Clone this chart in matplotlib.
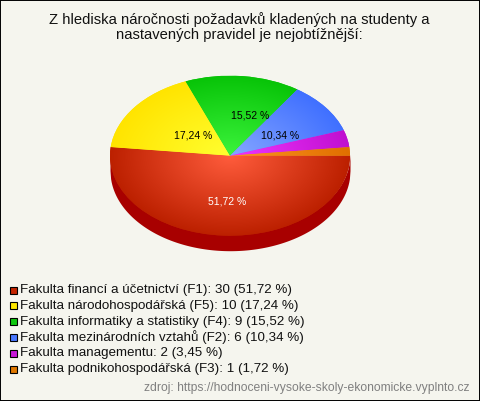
import numpy as np
import matplotlib
matplotlib.use("Agg")
import matplotlib.pyplot as plt
from matplotlib.colors import LinearSegmentedColormap
from matplotlib.patches import Rectangle

plt.rcParams['font.family'] = ['Liberation Sans', 'DejaVu Sans']

W, H = 480, 401
BG = '#f5f5ee'

title = "Z hlediska náročnosti požadavků kladených na studenty a\nnastavených pravidel je nejobtížnější:"
source = "zdroj: https://hodnoceni-vysoke-skoly-ekonomicke.vyplnto.cz"

faculties = [
    "Fakulta financí a účetnictví (F1)",
    "Fakulta národohospodářská (F5)",
    "Fakulta informatiky a statistiky (F4)",
    "Fakulta mezinárodních vztahů (F2)",
    "Fakulta managementu",
    "Fakulta podnikohospodářská (F3)",
]
counts = [30, 10, 9, 6, 2, 1]
percents = ["51,72", "17,24", "15,52", "10,34", "3,45", "1,72"]
# colour at centre of the slice / colour at its rim
inner_colors = ['#ff5c3c', '#ffff30', '#3cf43c', '#86a6ff', '#f035ff', '#ff9422']
outer_colors = ['#bc2000', '#ffe400', '#08c408', '#4070ff', '#c010d0', '#e07000']
legend_colors = ['#c42400', '#ffe800', '#10c810', '#4a78ff', '#c818d8', '#e07800']
side_color = '#a80000'
# slices with a printed percentage: pixel position of the label
pct_pos = [(227.5, 201), (193.5, 136), (250, 115), (280.5, 136)]
pct_color = ['white', 'black', 'black', 'black']


def px_x(x):
    return x / W


def px_y(y):
    return 1 - y / H


fig = plt.figure(figsize=(W / 100, H / 100), dpi=100, facecolor=BG)

# frame
fig.add_artist(Rectangle((0, 0), 1, 1, transform=fig.transFigure, fill=False,
                         edgecolor='black', linewidth=1.4))

fig.text(0.5 - 1 / W, px_y(20), title.split("\n")[0], ha='center', va='center', fontsize=10.67, color='#111111')
fig.text(0.5 - 1 / W, px_y(35), title.split("\n")[1], ha='center', va='center', fontsize=10.67, color='#111111')

# pie, squashed to an ellipse: 240 x 160 px with a 15 px side
cx, cy, rx, ry, depth = 230, 155.7, 120, 80, 15
ax = fig.add_axes([px_x(cx - rx), px_y(cy + ry), 2 * rx / W, 2 * ry / H])
wedges, _ = ax.pie(counts, startangle=0, counterclock=False, radius=1, center=(0, 0))
ax.set_aspect('auto')
ax.set_xlim(-1, 1)
ax.set_ylim(-1, 1)
ax.axis('off')

xs = np.linspace(-1, 1, 400)
ax.fill_between(xs, -np.sqrt(1 - xs ** 2) - depth / ry, -np.sqrt(1 - xs ** 2) + 0.02,
                color=side_color, linewidth=0, clip_on=False, zorder=0)
ax.fill_between(xs[xs >= 0.998], -0.1, 0, color=side_color, linewidth=0, clip_on=False, zorder=0)

gx, gy = np.meshgrid(np.linspace(-1, 1, 480), np.linspace(-1, 1, 320))
dist = np.sqrt(gx ** 2 + gy ** 2)
for wedge, c0, c1 in zip(wedges, inner_colors, outer_colors):
    wedge.set_facecolor(c1)
    wedge.set_edgecolor('none')
    wedge.set_zorder(1)
    cmap = LinearSegmentedColormap.from_list('slice', [c0, c1])
    im = ax.imshow(dist, cmap=cmap, vmin=0, vmax=1, extent=(-1, 1, -1, 1), origin='lower',
                   aspect='auto', zorder=2, interpolation='bilinear')
    im.set_clip_path(wedge)
ax.set_xlim(-1, 1)
ax.set_ylim(-1, 1)

for (x, y), pct, col in zip(pct_pos, percents, pct_color):
    fig.text(px_x(x), px_y(y), pct + " %", ha='center', va='center', fontsize=7.5, color=col, zorder=5)

# legend
leg_y = 290
leg_step = 15.8
for i, (name, n, pct, col) in enumerate(zip(faculties, counts, percents, legend_colors)):
    y = leg_y + i * leg_step
    fig.add_artist(Rectangle((px_x(9.5), px_y(y + 3.5)), 7 / W, 7 / H, transform=fig.transFigure,
                             facecolor=col, edgecolor='black', linewidth=0.8))
    fig.text(px_x(20), px_y(y), f"{name}: {n} ({pct} %)", ha='left', va='center',
             fontsize=9.62, color='#111111')

fig.text(px_x(470), px_y(388.5), source, ha='right', va='center', fontsize=8.7, color='#808080')

fig.savefig('out.png', dpi=100, facecolor=BG)
